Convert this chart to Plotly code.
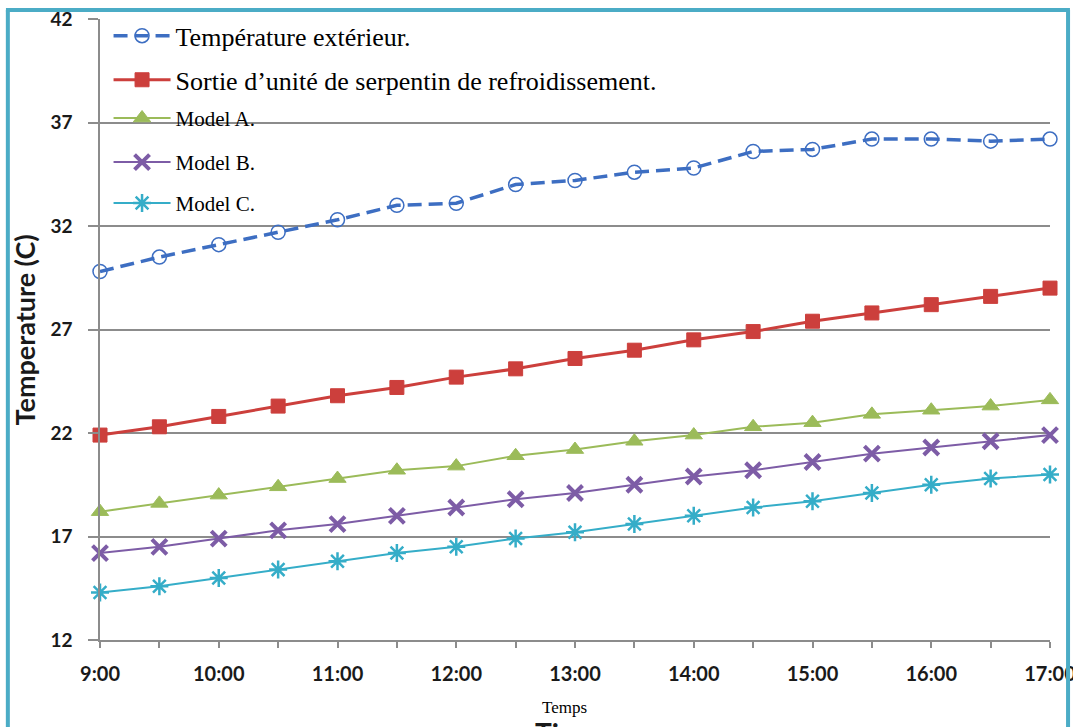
import plotly.graph_objects as go

# axe des temps : 9:00 -> 17:00 par pas de 30 min
heures = [9, 9.5, 10, 10.5, 11, 11.5, 12, 12.5, 13, 13.5, 14, 14.5, 15, 15.5, 16, 16.5, 17]
etiquettes = ["9:00", "", "10:00", "", "11:00", "", "12:00", "", "13:00", "",
              "14:00", "", "15:00", "", "16:00", "", "17:00"]

# valeurs (degres C)
temp_exterieur = [29.8, 30.5, 31.1, 31.7, 32.3, 33.0, 33.1, 34.0, 34.2, 34.6,
                  34.8, 35.6, 35.7, 36.2, 36.2, 36.1, 36.2]
sortie_serpentin = [21.9, 22.3, 22.8, 23.3, 23.8, 24.2, 24.7, 25.1, 25.6, 26.0,
                    26.5, 26.9, 27.4, 27.8, 28.2, 28.6, 29.0]
model_a = [18.2, 18.6, 19.0, 19.4, 19.8, 20.2, 20.4, 20.9, 21.2, 21.6,
           21.9, 22.3, 22.5, 22.9, 23.1, 23.3, 23.6]
model_b = [16.2, 16.5, 16.9, 17.3, 17.6, 18.0, 18.4, 18.8, 19.1, 19.5,
           19.9, 20.2, 20.6, 21.0, 21.3, 21.6, 21.9]
model_c = [14.3, 14.6, 15.0, 15.4, 15.8, 16.2, 16.5, 16.9, 17.2, 17.6,
           18.0, 18.4, 18.7, 19.1, 19.5, 19.8, 20.0]

noms = ["Température extérieur.", "Sortie d’unité de serpentin de refroidissement.",
        "Model A.", "Model B.", "Model C."]
y_ticks = [12, 17, 22, 27, 32, 37, 42]

SERIF = "Liberation Serif, Times New Roman, serif"
SANS = "Lato, Open Sans, sans-serif"

fig = go.Figure()

# (valeurs, couleur, largeur, tirets, symbole, taille, bord marqueur, legende)
styles = [
    (temp_exterieur, "#3D6EC2", 3.5, "14px,7px", "circle-open", 14, 1.5, "legend"),
    (sortie_serpentin, "#CC3F3C", 3, "solid", "square", 14, 1, "legend2"),
    (model_a, "#9BBB59", 2, "solid", "triangle-up", 15, 1, "legend3"),
    (model_b, "#7D5CA6", 2, "solid", "x-thin-open", 15, 4, "legend4"),
    (model_c, "#35ADC8", 2, "solid", "asterisk-open", 15, 2.5, "legend5"),
]

for nom, (vals, couleur, lw, dash, sym, taille, bord, leg) in zip(noms, styles):
    fig.add_trace(go.Scatter(
        x=heures, y=vals, name=nom, mode="lines+markers",
        line=dict(color=couleur, width=lw, dash=dash),
        marker=dict(symbol=sym, size=taille, color=couleur,
                    line=dict(color=couleur, width=bord)),
        cliponaxis=False, legend=leg,
    ))

# une legende par ligne pour placer chaque entree comme sur l'original
pos_legendes = [("legend", 0.973, 26), ("legend2", 0.902, 26), ("legend3", 0.840, 21),
                ("legend4", 0.769, 21), ("legend5", 0.703, 21)]
for cle, ypos, taille in pos_legendes:
    fig.update_layout({cle: dict(
        x=0.009, y=ypos, xanchor="left", yanchor="middle",
        bgcolor="rgba(0,0,0,0)", borderwidth=0, itemwidth=57,
        font=dict(family=SERIF, size=taille, color="black"),
        tracegroupgap=0,
    )})

# fonds blancs de la legende (cachent la grille) + cadre turquoise
shapes = [
    dict(type="rect", xref="paper", yref="paper", x0=0.002, x1=0.679, y0=0.865, y1=1.002,
         fillcolor="white", line=dict(width=0), layer="between"),
    dict(type="rect", xref="paper", yref="paper", x0=0.002, x1=0.337, y0=0.694, y1=0.866,
         fillcolor="white", line=dict(width=0), layer="between"),
    dict(type="line", xref="paper", yref="paper", x0=-0.097, x1=-0.097, y0=1.0144, y1=-0.3,
         line=dict(color="#4BACC6", width=4)),
    dict(type="line", xref="paper", yref="paper", x0=-0.099, x1=1.021, y0=1.0144, y1=1.0144,
         line=dict(color="#4BACC6", width=4)),
    dict(type="line", xref="paper", yref="paper", x0=1.019, x1=1.019, y0=1.0144, y1=-0.3,
         line=dict(color="#4BACC6", width=4)),
]

annotations = [
    dict(text="<b>Temperature (C)</b>", xref="paper", yref="paper", x=-0.079, y=0.5,
         textangle=-90, showarrow=False, xanchor="center", yanchor="middle",
         font=dict(family=SANS, size=27, color="#1a1a1a")),
    dict(text="Temps", xref="paper", yref="paper", x=0.489, y=-0.109,
         showarrow=False, xanchor="center", yanchor="middle",
         font=dict(family=SERIF, size=17, color="black")),
    # reste du titre d'origine, coupe par le bas de l'image
    dict(text="<b>Time</b>", xref="paper", yref="paper", x=0.49, y=-0.15,
         showarrow=False, xanchor="center", yanchor="middle",
         font=dict(family=SANS, size=28, color="#1a1a1a")),
]

fig.update_layout(
    width=1073, height=727,
    margin=dict(l=100, r=23, t=16, b=87),
    paper_bgcolor="white", plot_bgcolor="white",
    shapes=shapes, annotations=annotations,
    showlegend=True,
)

fig.update_xaxes(
    range=[9, 17], tickvals=heures, ticktext=etiquettes,
    showgrid=False, zeroline=False, automargin=False,
    showline=True, linecolor="#8c8c8c", linewidth=1.5,
    ticks="outside", ticklen=6, tickcolor="#8c8c8c", tickwidth=1.5,
    ticklabelstandoff=9, ticklabeloverflow="allow",
    tickfont=dict(family=SANS, size=20, color="#1a1a1a", weight="bold"),
)
fig.update_yaxes(
    range=[12, 42], tickvals=y_ticks,
    showgrid=True, gridcolor="#8c8c8c", gridwidth=1.5, zeroline=False, automargin=False,
    showline=True, linecolor="#8c8c8c", linewidth=1.5,
    ticks="outside", ticklen=10, tickcolor="#8c8c8c", tickwidth=1.5,
    ticklabelstandoff=12, ticklabeloverflow="allow",
    tickfont=dict(family=SANS, size=19, color="#1a1a1a", weight="bold"),
)

# la page html a une marge de 8px par defaut : on la supprime
fig.write_html("out.html", config={"displayModeBar": False},
               post_script="document.body.style.margin='0px';")
